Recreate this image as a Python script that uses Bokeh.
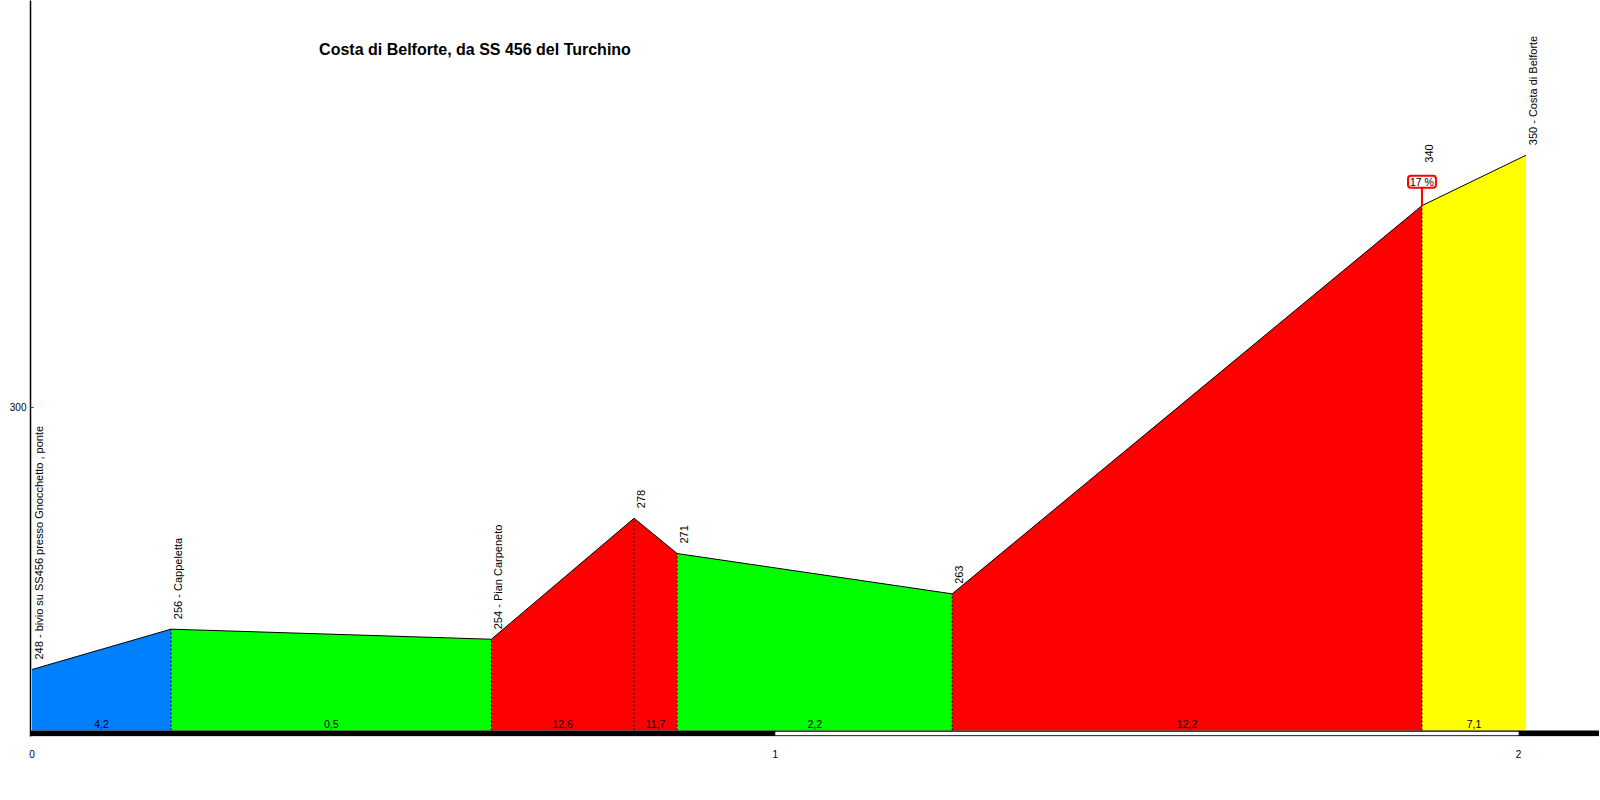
import math
from bokeh.plotting import figure
from bokeh.models import Range1d, FixedTicker, ColumnDataSource
from bokeh.core.properties import value
from bokeh.embed import file_html
from bokeh.resources import INLINE

# ---------------- data ----------------
title_text = "Costa di Belforte, da SS 456 del Turchino"
km = [0.0, 0.187, 0.618, 0.810, 0.868, 1.238, 1.870, 2.010]
elev = [248, 256, 254, 278, 271, 263, 340, 350]
point_labels = [
    "248 - bivio su SS456 presso Gnocchetto , ponte",
    "256 - Cappeletta",
    "254 - Pian Carpeneto",
    "278",
    "271",
    "263",
    "340",
    "350 - Costa di Belforte",
]
grad_labels = ["4,2", "0,5", "12,6", "11,7", "2,2", "12,2", "7,1"]
seg_colors = ["#0080FF", "#00FF00", "#FF0000", "#FF0000", "#00FF00", "#FF0000", "#FFFF00"]
x_ticks = [0, 1, 2]
y_ticks = [300]
marker_index = 6
marker_text = "17 %"

# ---------------- geometry (page pixels) ----------------
FONT = "Liberation Sans"
OFF_X, OFF_Y = 0, 1     # observed page offset of the figure
FIG_W, FIG_H = 1599, 790
PX_PER_KM = 743.3
PX_PER_M = 5.042
X0_PAGE = 31.5          # page x of km 0
REF_E, REF_PAGE_Y = 248, 670.0
FRAME_L, FRAME_T, FRAME_B = 30, OFF_Y, 737
FRAME_R = OFF_X + FIG_W
BASE_PAGE_Y = 731.0


def px_to_km(px):
    return (px - X0_PAGE) / PX_PER_KM


def py_to_elev(py):
    return REF_E + (REF_PAGE_Y - py) / PX_PER_M


x_start, x_end = px_to_km(FRAME_L), px_to_km(FRAME_R)
y_top, y_bot = py_to_elev(FRAME_T), py_to_elev(FRAME_B)
base = py_to_elev(BASE_PAGE_Y)

p = figure(
    width=FIG_W, height=FIG_H,
    x_range=Range1d(x_start, x_end), y_range=Range1d(y_bot, y_top),
    output_backend="svg", toolbar_location=None,
    min_border_left=FRAME_L - OFF_X, min_border_right=0,
    min_border_top=FRAME_T - OFF_Y,
    min_border_bottom=OFF_Y + FIG_H - FRAME_B,
)
p.outline_line_color = None
p.xgrid.visible = False
p.ygrid.visible = False
p.background_fill_color = "white"
p.border_fill_color = "white"

# axes
yax = p.yaxis[0]
yax.ticker = FixedTicker(ticks=y_ticks)
yax.major_tick_in = 3
yax.major_tick_out = 0
yax.major_tick_line_color = "#FF0000"
yax.major_tick_line_width = 1
yax.minor_tick_line_color = None
yax.axis_line_color = "black"
yax.axis_line_width = 1.5
yax.major_label_text_font = FONT
yax.major_label_text_font_size = "10px"
yax.major_label_text_color = "black"
yax.major_label_standoff = 4

xax = p.xaxis[0]
xax.ticker = FixedTicker(ticks=x_ticks)
xax.axis_line_color = None
xax.major_tick_line_color = None
xax.minor_tick_line_color = None
xax.major_label_text_font = FONT
xax.major_label_text_font_size = "10px"
xax.major_label_text_color = "black"
xax.major_label_standoff = 7

# profile fills
n = len(km)
xs = [[km[i], km[i], km[i + 1], km[i + 1]] for i in range(n - 1)]
ys = [[base, elev[i], elev[i + 1], base] for i in range(n - 1)]
p.patches(xs, ys, fill_color=seg_colors, line_color=None)

# profile outline
p.line(km, elev, line_color="black", line_width=1)

# dashed verticals
p.segment(x0=km[1:-1], y0=[base] * (n - 2), x1=km[1:-1], y1=elev[1:-1],
          line_color="black", line_width=1, line_dash="2 2")

# km band
band_bottom = py_to_elev(BASE_PAGE_Y + 5.7)
p.quad(left=[x_start], right=[x_end], top=[base], bottom=[band_bottom],
       fill_color="black", line_color=None)
white_top = py_to_elev(BASE_PAGE_Y + 1.2)
white_bot = py_to_elev(BASE_PAGE_Y + 4.7)
p.quad(left=[x_ticks[1]], right=[x_ticks[2]], top=[white_top], bottom=[white_bot],
       fill_color="white", line_color=None)

# gradient labels
mids = [(km[i] + km[i + 1]) / 2 for i in range(n - 1)]
p.text(x=mids, y=[base] * (n - 1), text=grad_labels, y_offset=-7,
       text_align="center", text_baseline="middle",
       text_font=value(FONT), text_font_size="10.5px", text_color="black")

# point labels (vertical)
offs = [-10] * n
offs[marker_index] = -43
src = ColumnDataSource(dict(x=km, y=elev, t=point_labels, yo=offs))
p.text(x="x", y="y", text="t", source=src, angle=math.pi / 2, x_offset=7, y_offset="yo",
       text_align="left", text_baseline="middle",
       text_font=value(FONT), text_font_size="11px", text_color="black")

# max gradient marker
mx, my = km[marker_index], elev[marker_index]
p.ray(x=[mx], y=[my], length=19, length_units="screen", angle=math.pi / 2,
      line_color="#FF0000", line_width=2)
p.text(x=[mx], y=[my], text=[marker_text], y_offset=-24,
       text_align="center", text_baseline="middle",
       text_font=value(FONT), text_font_size="10.5px", text_color="black",
       background_fill_color="white", border_line_color="#FF0000", border_line_width=2,
       padding=(2, 0), border_radius=3)

# title
p.text(x=[px_to_km(474.5)], y=[py_to_elev(50)], text=[title_text],
       text_align="center", text_baseline="middle",
       text_font=value(FONT), text_font_size="16px", text_font_style="bold",
       text_color="black")

open("out.html", "w").write(file_html(p, INLINE))
